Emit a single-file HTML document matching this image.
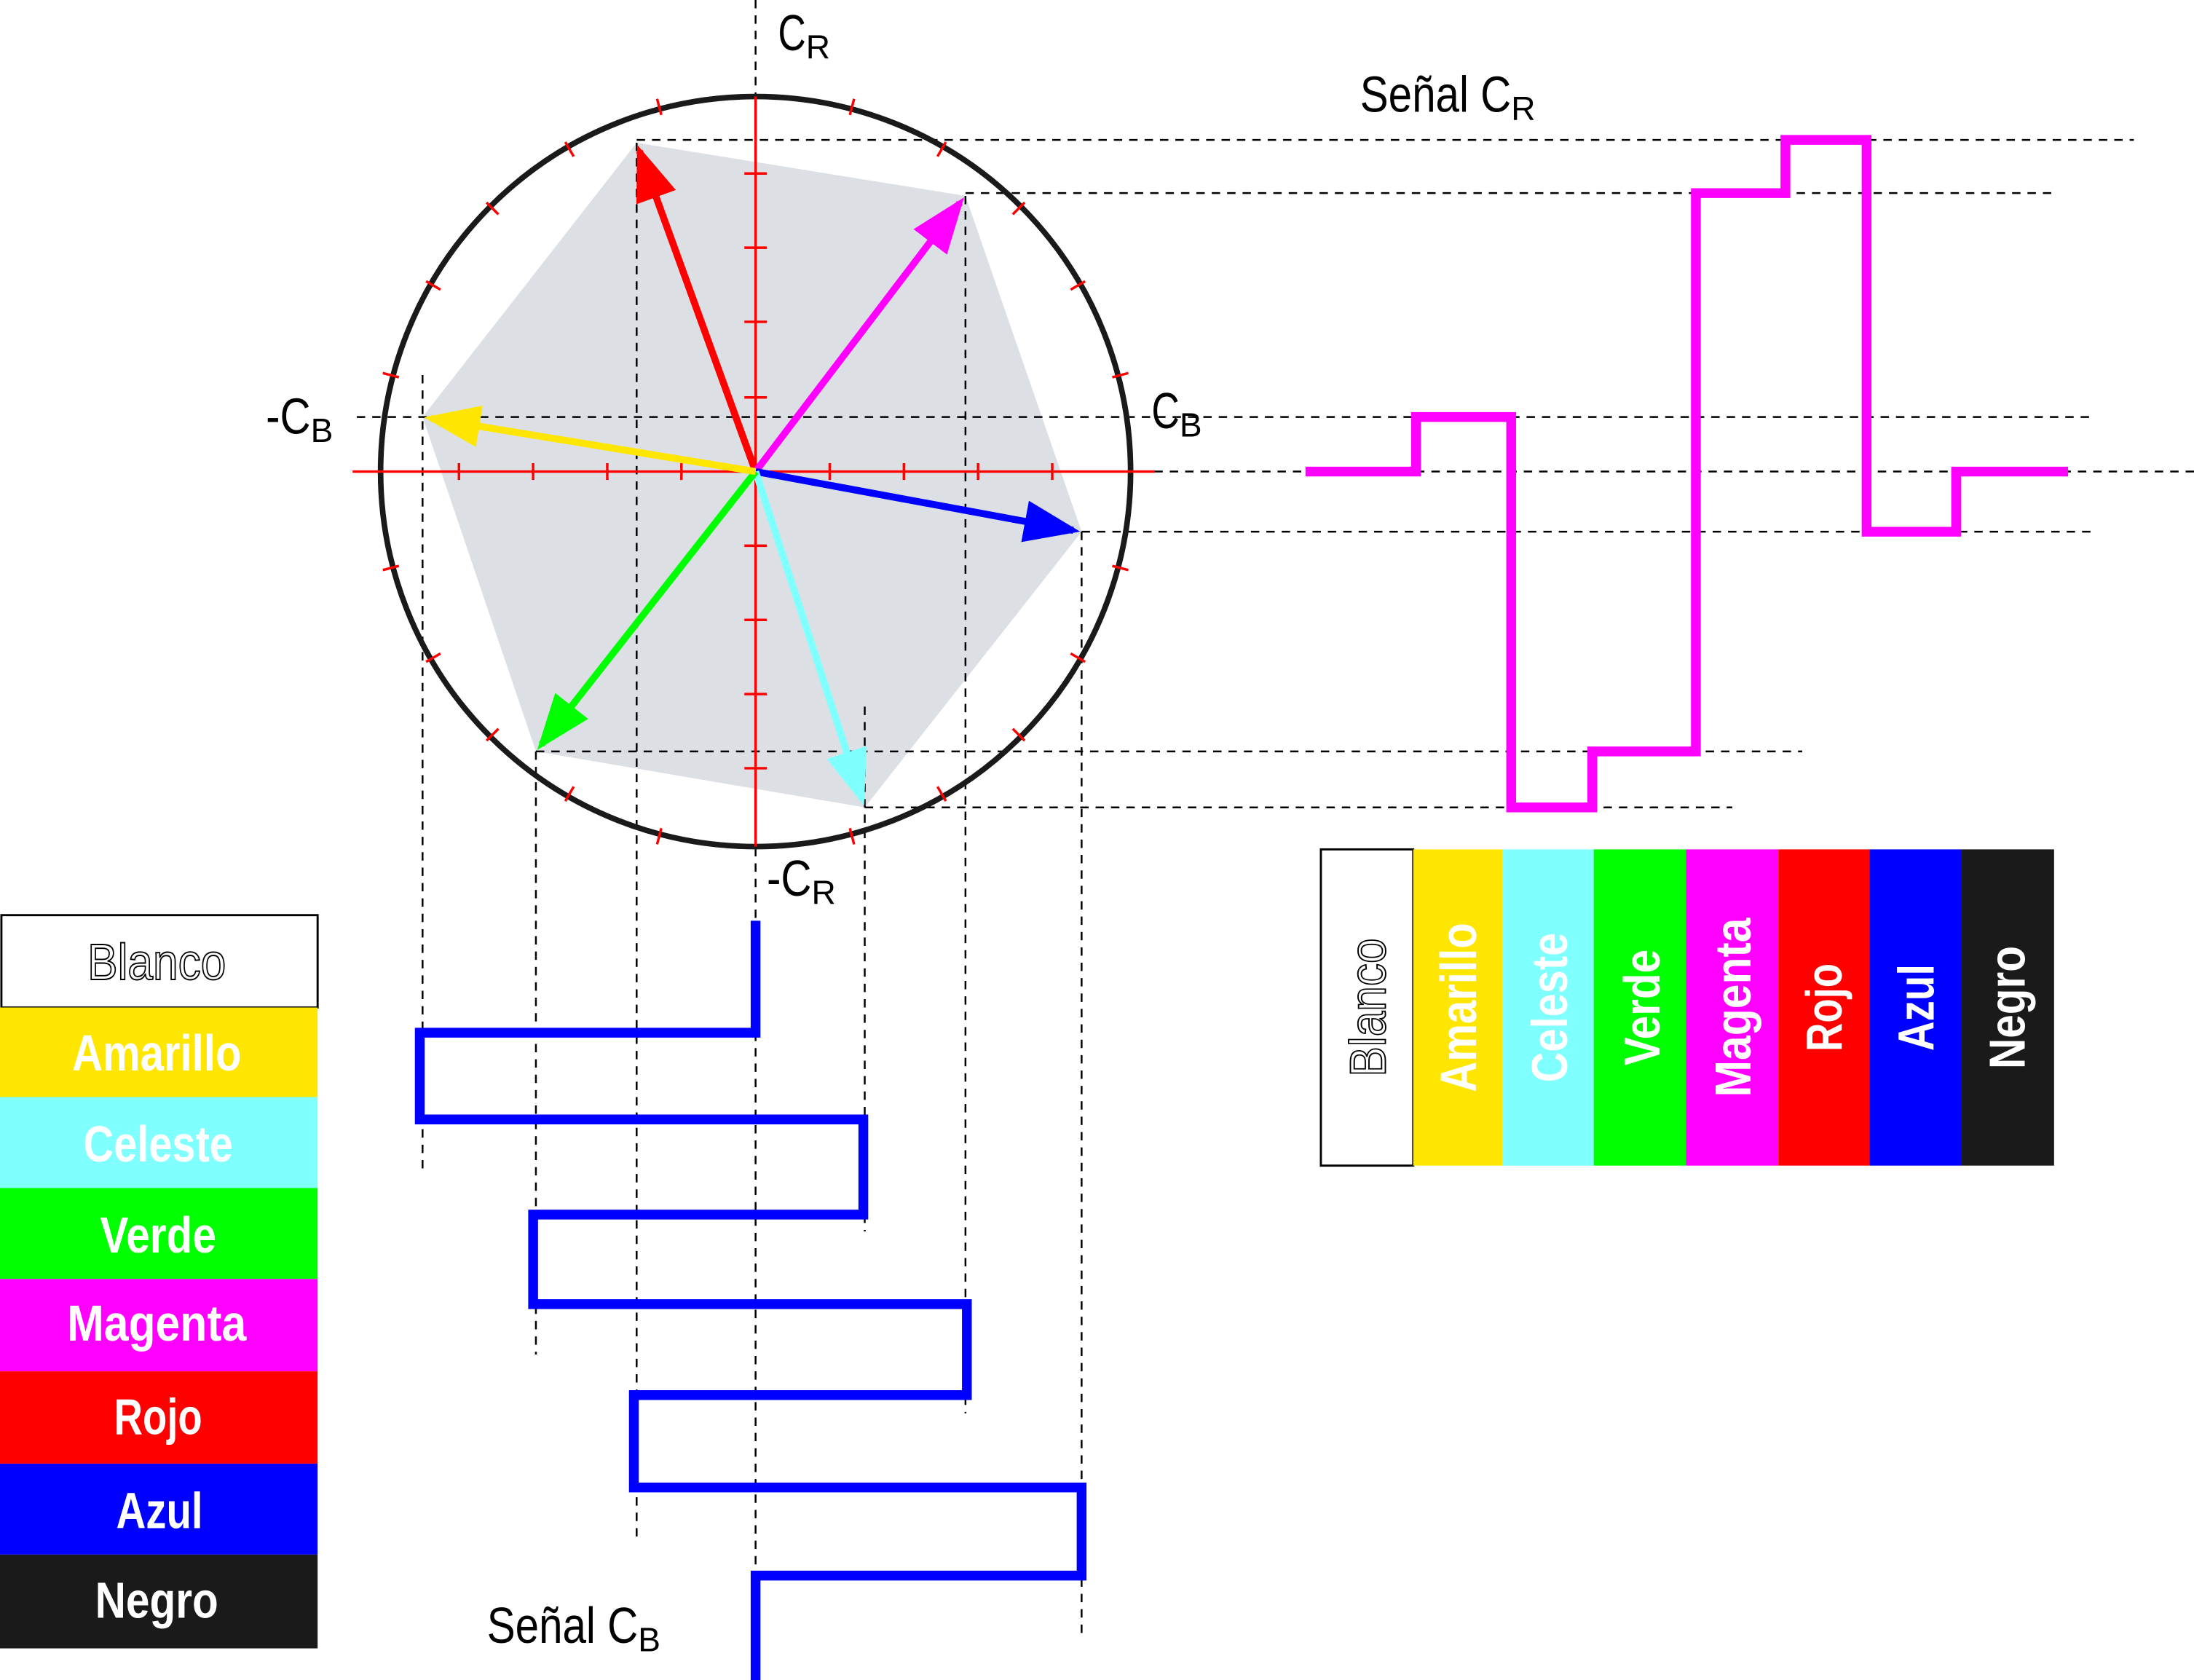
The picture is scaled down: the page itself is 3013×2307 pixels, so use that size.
<!DOCTYPE html>
<html><head><meta charset="utf-8"><style>
html,body{margin:0;padding:0;background:#fff;}
svg{display:block;}
text{font-family:"Liberation Sans Narrow","Liberation Sans",sans-serif;}
</style></head><body>
<svg width="3013" height="2307" viewBox="0 0 1568 1200.6" preserveAspectRatio="none" xmlns="http://www.w3.org/2000/svg">
<rect width="1568" height="1201" fill="#fff"/>
<polygon points="455,102 690,140 773,380 618,577 383,537 302,298" fill="#dce0e5"/>
<g stroke="#000" stroke-width="1.3" stroke-dasharray="6,5" fill="none">
<line x1="540" y1="0" x2="540" y2="68"/>
<line x1="540" y1="606" x2="540" y2="1201"/>
<line x1="455" y1="100" x2="1525" y2="100"/>
<line x1="690" y1="138" x2="1470" y2="138"/>
<line x1="255" y1="298" x2="1495" y2="298"/>
<line x1="825" y1="337" x2="1568" y2="337"/>
<line x1="773" y1="380" x2="1495" y2="380"/>
<line x1="383" y1="537" x2="1288" y2="537"/>
<line x1="618" y1="577" x2="1238" y2="577"/>
<line x1="302" y1="268" x2="302" y2="835"/>
<line x1="383" y1="537" x2="383" y2="968"/>
<line x1="455" y1="102" x2="455" y2="1100"/>
<line x1="618" y1="505" x2="618" y2="880"/>
<line x1="690" y1="140" x2="690" y2="1010"/>
<line x1="773" y1="380" x2="773" y2="1170"/>
</g>
<circle cx="540" cy="337" r="268" fill="none" stroke="#1a1a1a" stroke-width="4"/>
<g stroke="#ff0000" stroke-width="1.8">
<line x1="252" y1="337" x2="825" y2="337"/>
<line x1="540" y1="69" x2="540" y2="605"/>
<line x1="328" y1="331" x2="328" y2="343"/><line x1="381" y1="331" x2="381" y2="343"/>
<line x1="434" y1="331" x2="434" y2="343"/><line x1="487" y1="331" x2="487" y2="343"/>
<line x1="593" y1="331" x2="593" y2="343"/><line x1="646" y1="331" x2="646" y2="343"/>
<line x1="699" y1="331" x2="699" y2="343"/><line x1="752" y1="331" x2="752" y2="343"/>
<line x1="532" y1="124" x2="548" y2="124"/><line x1="532" y1="177" x2="548" y2="177"/>
<line x1="532" y1="230" x2="548" y2="230"/><line x1="532" y1="284" x2="548" y2="284"/>
<line x1="532" y1="390" x2="548" y2="390"/><line x1="532" y1="443" x2="548" y2="443"/>
<line x1="532" y1="496" x2="548" y2="496"/><line x1="532" y1="549" x2="548" y2="549"/>
</g>
<g stroke="#ff0000" stroke-width="1.8">
<line x1="806.4" y1="266.6" x2="794.9" y2="269.6"/><line x1="775.5" y1="201" x2="765.2" y2="207"/><line x1="732.3" y1="144.7" x2="723.8" y2="153.2"/><line x1="676" y1="101.5" x2="670" y2="111.8"/><line x1="610.4" y1="70.6" x2="607.4" y2="82.1"/>
<line x1="469.6" y1="70.6" x2="472.6" y2="82.1"/><line x1="404" y1="101.5" x2="410" y2="111.8"/><line x1="347.7" y1="144.7" x2="356.2" y2="153.2"/><line x1="304.5" y1="201" x2="314.8" y2="207"/><line x1="273.6" y1="266.6" x2="285.1" y2="269.6"/>
<line x1="273.6" y1="407.4" x2="285.1" y2="404.4"/><line x1="304.5" y1="473" x2="314.8" y2="467"/><line x1="347.7" y1="529.3" x2="356.2" y2="520.8"/><line x1="404" y1="572.5" x2="410" y2="562.2"/><line x1="469.6" y1="603.4" x2="472.6" y2="591.9"/>
<line x1="610.4" y1="603.4" x2="607.4" y2="591.9"/><line x1="676" y1="572.5" x2="670" y2="562.2"/><line x1="732.3" y1="529.3" x2="723.8" y2="520.8"/><line x1="775.5" y1="473" x2="765.2" y2="467"/><line x1="806.4" y1="407.4" x2="794.9" y2="404.4"/>
</g>
<defs>
<marker id="mr" markerWidth="8" markerHeight="6" refX="7" refY="3" orient="auto" markerUnits="strokeWidth"><path d="M0,0 L8,3 L0,6 z" fill="#ff0000"/></marker>
<marker id="mm" markerWidth="8" markerHeight="6" refX="7" refY="3" orient="auto" markerUnits="strokeWidth"><path d="M0,0 L8,3 L0,6 z" fill="#ff00ff"/></marker>
<marker id="mb" markerWidth="8" markerHeight="6" refX="7" refY="3" orient="auto" markerUnits="strokeWidth"><path d="M0,0 L8,3 L0,6 z" fill="#0000ff"/></marker>
<marker id="mc" markerWidth="8" markerHeight="6" refX="7" refY="3" orient="auto" markerUnits="strokeWidth"><path d="M0,0 L8,3 L0,6 z" fill="#80ffff"/></marker>
<marker id="mg" markerWidth="8" markerHeight="6" refX="7" refY="3" orient="auto" markerUnits="strokeWidth"><path d="M0,0 L8,3 L0,6 z" fill="#00ff00"/></marker>
<marker id="my" markerWidth="8" markerHeight="6" refX="7" refY="3" orient="auto" markerUnits="strokeWidth"><path d="M0,0 L8,3 L0,6 z" fill="#ffe600"/></marker>
</defs>
<g stroke-width="5" fill="none">
<line x1="540" y1="337" x2="457" y2="108" stroke="#ff0000" marker-end="url(#mr)"/>
<line x1="540" y1="337" x2="686" y2="145" stroke="#ff00ff" marker-end="url(#mm)"/>
<line x1="540" y1="337" x2="767" y2="379" stroke="#0000ff" marker-end="url(#mb)"/>
<line x1="540" y1="337" x2="616" y2="571" stroke="#80ffff" marker-end="url(#mc)"/>
<line x1="540" y1="337" x2="387" y2="532" stroke="#00ff00" marker-end="url(#mg)"/>
<line x1="540" y1="337" x2="308" y2="299" stroke="#ffe600" marker-end="url(#my)"/>
</g>
<polyline points="933,337 1012,337 1012,298 1080,298 1080,577 1138,577 1138,537 1212,537 1212,138 1276,138 1276,100 1334,100 1334,380 1398,380 1398,337 1478,337" fill="none" stroke="#ff00ff" stroke-width="7"/>
<polyline points="540,658 540,738 300,738 300,800 617,800 617,868 381,868 381,932 691,932 691,997 453,997 453,1063 773,1063 773,1126 540,1126 540,1201" fill="none" stroke="#0000ff" stroke-width="7"/>
<g font-size="36" fill="#000">
<text x="556" y="36"><tspan textLength="20" lengthAdjust="spacingAndGlyphs">C</tspan><tspan font-size="24" dy="6">R</tspan></text>
<text x="190" y="310"><tspan textLength="32" lengthAdjust="spacingAndGlyphs">-C</tspan><tspan font-size="24" dy="6">B</tspan></text>
<text x="823" y="306"><tspan textLength="20" lengthAdjust="spacingAndGlyphs">C</tspan><tspan font-size="24" dy="6">B</tspan></text>
<text x="548" y="640"><tspan textLength="32" lengthAdjust="spacingAndGlyphs">-C</tspan><tspan font-size="24" dy="6">R</tspan></text>
<text x="972" y="80"><tspan textLength="108" lengthAdjust="spacingAndGlyphs">Señal C</tspan><tspan font-size="24" dy="6">R</tspan></text>
<text x="348" y="1174"><tspan textLength="108" lengthAdjust="spacingAndGlyphs">Señal C</tspan><tspan font-size="24" dy="6">B</tspan></text>
</g>
<rect x="1" y="654" width="226" height="66" fill="#fff" stroke="#000" stroke-width="1.5"/>
<rect x="0" y="720" width="227" height="64" fill="#ffe600"/>
<rect x="0" y="784" width="227" height="65" fill="#80ffff"/>
<rect x="0" y="849" width="227" height="65" fill="#00ff00"/>
<rect x="0" y="914" width="227" height="66" fill="#ff00ff"/>
<rect x="0" y="980" width="227" height="66" fill="#ff0000"/>
<rect x="0" y="1046" width="227" height="65" fill="#0000ff"/>
<rect x="0" y="1111" width="227" height="67" fill="#1a1a1a"/>
<g font-size="36" font-weight="bold" fill="#fff" text-anchor="middle" lengthAdjust="spacingAndGlyphs">
<text x="112" y="700" stroke="#000" stroke-width="1" font-weight="normal" textLength="99" lengthAdjust="spacingAndGlyphs">Blanco</text>
<text x="112" y="765" textLength="121" lengthAdjust="spacingAndGlyphs">Amarillo</text>
<text x="113" y="830" textLength="107" lengthAdjust="spacingAndGlyphs">Celeste</text>
<text x="113" y="895" textLength="83" lengthAdjust="spacingAndGlyphs">Verde</text>
<text x="112" y="958" textLength="128" lengthAdjust="spacingAndGlyphs">Magenta</text>
<text x="113" y="1025" textLength="63" lengthAdjust="spacingAndGlyphs">Rojo</text>
<text x="114" y="1092" textLength="62" lengthAdjust="spacingAndGlyphs">Azul</text>
<text x="112" y="1156" textLength="88" lengthAdjust="spacingAndGlyphs">Negro</text>
</g>
<rect x="944" y="607" width="66" height="226" fill="#fff" stroke="#000" stroke-width="1.5"/>
<rect x="1010" y="607" width="64" height="226" fill="#ffe600"/>
<rect x="1074" y="607" width="65" height="226" fill="#80ffff"/>
<rect x="1139" y="607" width="66" height="226" fill="#00ff00"/>
<rect x="1205" y="607" width="66" height="226" fill="#ff00ff"/>
<rect x="1271" y="607" width="65" height="226" fill="#ff0000"/>
<rect x="1336" y="607" width="66" height="226" fill="#0000ff"/>
<rect x="1402" y="607" width="66" height="226" fill="#1a1a1a"/>
<g font-size="36" font-weight="bold" fill="#fff" text-anchor="middle">
<text transform="translate(990,720) rotate(-90)" stroke="#000" stroke-width="1" font-weight="normal" textLength="99" lengthAdjust="spacingAndGlyphs">Blanco</text>
<text transform="translate(1055,720) rotate(-90)" textLength="121" lengthAdjust="spacingAndGlyphs">Amarillo</text>
<text transform="translate(1120,720) rotate(-90)" textLength="107" lengthAdjust="spacingAndGlyphs">Celeste</text>
<text transform="translate(1186,720) rotate(-90)" textLength="83" lengthAdjust="spacingAndGlyphs">Verde</text>
<text transform="translate(1251,720) rotate(-90)" textLength="128" lengthAdjust="spacingAndGlyphs">Magenta</text>
<text transform="translate(1316,720) rotate(-90)" textLength="63" lengthAdjust="spacingAndGlyphs">Rojo</text>
<text transform="translate(1382,720) rotate(-90)" textLength="62" lengthAdjust="spacingAndGlyphs">Azul</text>
<text transform="translate(1447,720) rotate(-90)" textLength="88" lengthAdjust="spacingAndGlyphs">Negro</text>
</g>
</svg>
</body></html>
